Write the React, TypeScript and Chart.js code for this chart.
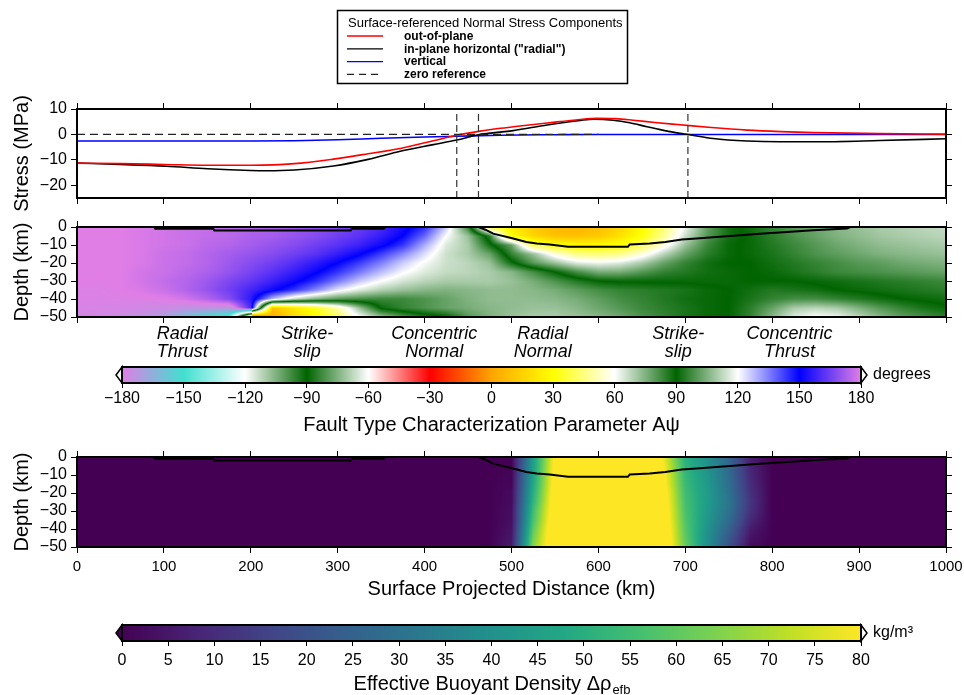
import React, { useEffect, useRef } from "react";
import { Chart, registerables } from "chart.js";

Chart.register(...registerables);

const FONT = "'Liberation Sans', Helvetica, Arial, sans-serif";
Chart.defaults.font.family = FONT;
Chart.defaults.color = "#000";

// ---------------- Stress panel ----------------
const legendTitle = "Surface-referenced Normal Stress Components";
const legendLabels = ["out-of-plane", 'in-plane horizontal ("radial")', "vertical", "zero reference"];
const legendColors = ["#ff0000", "#000000", "#0000ff", "#222222"];
const legendDashed = [false, false, false, true];

const outOfPlaneKm = [0, 50, 100, 150, 200, 250, 295, 335, 372, 410, 437, 464, 487, 502, 541, 579, 598, 620, 640, 665, 694, 730, 771, 810, 848, 924, 1000];
const outOfPlaneMPa = [-11.3, -11.5, -11.8, -12.1, -12.1, -11.5, -9.7, -7.6, -5.5, -2.5, -0.3, 1.3, 2.4, 3.0, 4.5, 5.9, 6.3, 6.2, 5.6, 4.7, 3.8, 2.7, 1.7, 1.1, 0.7, 0.3, 0.1];

const radialKm = [0, 50, 103, 150, 200, 218, 250, 295, 335, 372, 410, 437, 462, 487, 502, 541, 579, 595, 617, 636, 656, 675, 694, 703, 732, 771, 809, 848, 924, 1000];
const radialMPa = [-11.3, -11.8, -12.5, -13.5, -14.2, -14.3, -14.0, -12.4, -9.8, -6.6, -4.0, -2.2, -0.1, 0.9, 1.5, 3.7, 5.5, 6.0, 5.6, 4.6, 3.0, 1.6, 0.4, 0, -1.6, -2.6, -2.9, -2.9, -2.4, -1.7];

const verticalKm = [0, 100, 200, 250, 300, 350, 400, 437, 487, 550, 600, 1000];
const verticalMPa = [-2.6, -2.6, -2.6, -2.5, -2.1, -1.5, -1.0, -0.7, -0.3, -0.1, 0, 0];

const zeroRefKm = [0, 600];
const zeroRefMPa = [0, 0];
const markerKm = [437, 462, 703];

const stressTicks = [10, 0, -10, -20];
const distanceTicks = [0, 100, 200, 300, 400, 500, 600, 700, 800, 900, 1000];
const depthTicks = [0, -10, -20, -30, -40, -50];

// ---------------- Depth sections ----------------
const gridKm = [0, 25, 50, 75, 100, 125, 150, 175, 200, 225, 250, 275, 300, 325, 350, 375, 400, 425, 450, 475, 500, 525, 550, 575, 600, 625, 650, 675, 700, 725, 750, 775, 800, 825, 850, 875, 900, 925, 950, 975, 1000];
const gridDepth = [0, -5, -10, -15, -20, -25, -30, -35, -40, -45, -50];

// Fault type parameter A-psi (degrees), rows = gridDepth, columns = gridKm
const faultTypeGrid = [
  [180, 180, 180, 179, 178, 177, 176, 175, 174, 173, 171, 169, 167, 164, 160, 153, 145, 126, 96, 38, 24, 12, 6, 5, 8, 16, 28, 44, 62, 78, 88, 92, 96, 100, 103, 106, 108, 110, 111, 112, 113],
  [180, 180, 180, 179, 178, 177, 176, 175, 173, 172, 170, 168, 165, 162, 157, 150, 138, 120, 108, 85, 30, 16, 10, 9, 12, 20, 31, 47, 66, 80, 88, 91, 95, 99, 102, 105, 107, 109, 110, 111, 112],
  [180, 180, 180, 179, 178, 177, 175, 174, 172, 170, 168, 165, 162, 158, 152, 144, 130, 116, 110, 92, 78, 40, 30, 28, 28, 32, 40, 56, 72, 83, 89, 91, 94, 97, 100, 103, 105, 107, 108, 109, 110],
  [180, 180, 180, 179, 177, 176, 174, 172, 170, 168, 165, 162, 157, 151, 143, 134, 124, 114, 110, 102, 84, 72, 56, 46, 44, 46, 56, 68, 78, 85, 89, 91, 93, 96, 99, 101, 103, 105, 106, 107, 108],
  [180, 180, 180, 179, 177, 176, 174, 171, 168, 165, 161, 156, 150, 143, 135, 126, 119, 114, 112, 108, 92, 80, 72, 64, 62, 64, 70, 78, 84, 88, 90, 90, 92, 94, 96, 98, 100, 101, 103, 104, 105],
  [180, 180, 180, 178, 177, 175, 173, 170, 166, 162, 157, 151, 144, 136, 128, 121, 116, 113, 112, 110, 106, 98, 90, 82, 76, 76, 80, 84, 86, 88, 89, 90, 91, 93, 95, 97, 98, 99, 100, 101, 102],
  [180, 180, 180, 178, 176, 174, 171, 167, 163, 158, 152, 145, 136, 127, 120, 115, 112, 110, 110, 110, 108, 104, 99, 94, 90, 89, 89, 89, 89, 89, 89, 90, 90, 90, 91, 92, 93, 94, 95, 96, 97],
  [181, 181, 180, 179, 177, 174, 170, 165, 159, 152, 144, 134, 123, 116, 111, 108, 106, 105, 106, 107, 107, 106, 104, 101, 98, 96, 95, 94, 93, 91, 90, 88, 86, 87, 88, 90, 91, 92, 93, 94, 95],
  [181, 181, 181, 181, 180, 178, 174, 168, 156, 128, 113, 105, 100, 98, 97, 97, 99, 102, 105, 107, 107, 107, 106, 104, 101, 98, 96, 94, 92, 91, 90, 87, 84, 82, 82, 84, 86, 88, 90, 91, 92],
  [182, 182, 182, 183, 184, 186, 186, 188, 160, 10, 22, 34, 50, 72, 91, 96, 99, 102, 104, 106, 107, 108, 108, 106, 103, 100, 97, 95, 93, 91, 90, 85, 78, 70, 68, 70, 75, 80, 84, 87, 89],
  [182, 183, 184, 186, 190, 200, 210, 215, 330, 2, 18, 28, 42, 60, 72, 80, 86, 90, 100, 105, 108, 110, 110, 108, 106, 103, 99, 96, 93, 91, 90, 84, 74, 64, 60, 62, 68, 74, 79, 82, 85],
];

// Effective buoyant density (kg/m^3), rows = gridDepth, columns = gridKm
const densityGrid = [
  [0, 0, 0, 0, 0, 0, 0, 0, 0, 0, 0, 0, 0, 0, 0, 0, 0, 0, 0, 0, 0, 44, 82, 90, 90, 90, 88, 78, 50, 40, 26, 6, 0, 0, 0, 0, 0, 0, 0, 0, 0],
  [0, 0, 0, 0, 0, 0, 0, 0, 0, 0, 0, 0, 0, 0, 0, 0, 0, 0, 0, 0, 0, 45, 83, 90, 90, 90, 89, 80, 52, 41, 27, 8, 0, 0, 0, 0, 0, 0, 0, 0, 0],
  [0, 0, 0, 0, 0, 0, 0, 0, 0, 0, 0, 0, 0, 0, 0, 0, 0, 0, 0, 0, 1, 46, 84, 90, 90, 90, 89, 82, 53, 42, 28, 9, 0, 0, 0, 0, 0, 0, 0, 0, 0],
  [0, 0, 0, 0, 0, 0, 0, 0, 0, 0, 0, 0, 0, 0, 0, 0, 0, 0, 0, 0, 1, 48, 85, 90, 90, 90, 90, 83, 54, 43, 29, 10, 0, 0, 0, 0, 0, 0, 0, 0, 0],
  [0, 0, 0, 0, 0, 0, 0, 0, 0, 0, 0, 0, 0, 0, 0, 0, 0, 0, 0, 0, 2, 50, 86, 90, 90, 90, 90, 85, 55, 44, 30, 11, 0, 0, 0, 0, 0, 0, 0, 0, 0],
  [0, 0, 0, 0, 0, 0, 0, 0, 0, 0, 0, 0, 0, 0, 0, 0, 0, 0, 0, 0, 2, 52, 87, 90, 90, 90, 90, 86, 56, 44, 31, 12, 0, 0, 0, 0, 0, 0, 0, 0, 0],
  [0, 0, 0, 0, 0, 0, 0, 0, 0, 0, 0, 0, 0, 0, 0, 0, 0, 0, 0, 0, 3, 55, 88, 90, 90, 90, 90, 87, 57, 43, 30, 11, 0, 0, 0, 0, 0, 0, 0, 0, 0],
  [0, 0, 0, 0, 0, 0, 0, 0, 0, 0, 0, 0, 0, 0, 0, 0, 0, 0, 0, 0, 3, 57, 89, 90, 90, 90, 90, 88, 58, 42, 28, 9, 0, 0, 0, 0, 0, 0, 0, 0, 0],
  [0, 0, 0, 0, 0, 0, 0, 0, 0, 0, 0, 0, 0, 0, 0, 0, 0, 0, 0, 0, 4, 60, 90, 90, 90, 90, 90, 89, 59, 41, 25, 6, 0, 0, 0, 0, 0, 0, 0, 0, 0],
  [0, 0, 0, 0, 0, 0, 0, 0, 0, 0, 0, 0, 0, 0, 0, 0, 0, 0, 0, 0, 5, 63, 90, 90, 90, 90, 90, 90, 60, 40, 22, 4, 0, 0, 0, 0, 0, 0, 0, 0, 0],
  [0, 0, 0, 0, 0, 0, 0, 0, 0, 0, 0, 0, 0, 0, 0, 0, 0, 0, 0, 0, 6, 66, 90, 90, 90, 90, 90, 90, 62, 40, 20, 2, 0, 0, 0, 0, 0, 0, 0, 0, 0],
];

// Black contour (km, depth)
const contourKm = [0, 89, 90, 157, 158, 315, 316, 353, 355, 462, 470, 479, 502, 517, 529, 544, 565, 634, 636, 659, 677, 696, 713, 736, 763, 786, 817, 847, 886, 890, 1000];
const contourDepth = [0, 0, -1, -1, -2, -2, -1, -1, 0, 0, -1.5, -3.7, -6.4, -8.3, -9.2, -9.7, -11, -11, -9.7, -9.2, -8.3, -7, -6.4, -5.5, -4.6, -3.7, -2.8, -1.8, -0.9, 0, 0];

const faultTypeLabels = ["Radial\nThrust", "Strike-\nslip", "Concentric\nNormal", "Radial\nNormal", "Strike-\nslip", "Concentric\nThrust"];
const faultTypeKm = [121, 265, 411, 536, 692, 820];

// ---------------- Colour scales ----------------
const faultCptValues = [-180, -150, -120, -90, -60, -30, 0, 30, 60, 90, 120, 150, 180];
const faultCptColors = ["#e07ee6", "#40e0d0", "#ffffff", "#006400", "#ffffff", "#ff0000", "#ffa500", "#ffff00", "#ffffff", "#006400", "#ffffff", "#0000ff", "#e07ee6"];
const faultCbTicks = [-180, -150, -120, -90, -60, -30, 0, 30, 60, 90, 120, 150, 180];

const densCptValues = [0, 8, 16, 24, 32, 40, 48, 56, 64, 72, 80];
const densCptColors = ["#440154", "#482475", "#414487", "#355f8d", "#2a788e", "#21918c", "#22a884", "#44bf70", "#7ad151", "#bddf26", "#fde725"];
const densCbTicks = [0, 5, 10, 15, 20, 25, 30, 35, 40, 45, 50, 55, 60, 65, 70, 75, 80];

// ---------------- helpers ----------------
const fmt = (v: number) => (v < 0 ? "\u2212" + Math.abs(v) : String(v));
const pts = (xs: number[], ys: number[]) => xs.map((x, i) => ({ x, y: ys[i] }));

const GRID = { drawOnChartArea: false, drawTicks: true, tickLength: 6, tickColor: "#000", color: "#000", lineWidth: 1 };

function hAxis(position: string, height: number, tickVals: number[], min: number, max: number, showLabels: boolean, labelSize: number, pad: number, title?: any, tickLen = 6) {
  return {
    type: "linear",
    position,
    min,
    max,
    afterBuildTicks: (s: any) => {
      s.ticks = tickVals.map((v) => ({ value: v }));
    },
    ticks: { display: showLabels, autoSkip: false, maxRotation: 0, color: "#000", padding: pad, font: { family: FONT, size: labelSize }, callback: (v: any) => fmt(Number(v)) },
    grid: { ...GRID, tickLength: tickLen },
    border: { display: false },
    title: title || { display: false },
    afterFit: (s: any) => {
      s.height = height;
      s.paddingLeft = 0;
      s.paddingRight = 0;
    },
  };
}

function vAxis(position: string, width: number, min: number, max: number, tickVals: number[], showLabels: boolean, title?: string) {
  return {
    type: "linear",
    position,
    min,
    max,
    afterBuildTicks: (s: any) => {
      s.ticks = tickVals.map((v) => ({ value: v }));
    },
    ticks: { display: showLabels, autoSkip: false, color: "#000", padding: 4, font: { family: FONT, size: 16 }, callback: (v: any) => fmt(Number(v)) },
    grid: GRID,
    border: { display: false },
    title: title
      ? { display: true, text: title, color: "#000", font: { family: FONT, size: 20 }, padding: { top: 10, bottom: 0 } }
      : { display: false },
    afterFit: (s: any) => {
      s.width = width;
      s.paddingTop = 0;
      s.paddingBottom = 0;
    },
  };
}

function hexRgb(h: string) {
  return [parseInt(h.slice(1, 3), 16), parseInt(h.slice(3, 5), 16), parseInt(h.slice(5, 7), 16)];
}

function makeCmap(vals: number[], colors: string[], wrap: boolean) {
  const rgb = colors.map(hexRgb);
  return (v0: number) => {
    let v = v0;
    if (wrap) v = ((((v + 180) % 360) + 360) % 360) - 180;
    if (v <= vals[0]) return rgb[0];
    if (v >= vals[vals.length - 1]) return rgb[rgb.length - 1];
    let k = 0;
    while (k < vals.length - 2 && v > vals[k + 1]) k++;
    const t = (v - vals[k]) / (vals[k + 1] - vals[k]);
    const a = rgb[k], b = rgb[k + 1];
    return [a[0] + (b[0] - a[0]) * t, a[1] + (b[1] - a[1]) * t, a[2] + (b[2] - a[2]) * t];
  };
}

const unwrap = (d: number) => ((((d % 360) + 540) % 360) - 180);

function lerpVal(p: number, q: number, t: number, circular: boolean) {
  const qq = circular ? p + unwrap(q - p) : q;
  return p + (qq - p) * t;
}

function sampleGrid(grid: number[][], gx: number[], gy: number[], xv: number, yv: number, circular: boolean) {
  const nx = gx.length, ny = gy.length;
  let fi = (xv - gx[0]) / (gx[1] - gx[0]);
  let fj = (yv - gy[0]) / (gy[1] - gy[0]);
  fi = Math.max(0, Math.min(nx - 1, fi));
  fj = Math.max(0, Math.min(ny - 1, fj));
  const i = Math.min(nx - 2, Math.floor(fi));
  const j = Math.min(ny - 2, Math.floor(fj));
  const tx = fi - i, ty = fj - j;
  const topV = lerpVal(grid[j][i], grid[j][i + 1], tx, circular);
  const botV = lerpVal(grid[j + 1][i], grid[j + 1][i + 1], tx, circular);
  return lerpVal(topV, botV, ty, circular);
}

function heatmapPlugin(id: string, grid: number[][], circular: boolean, cmap: (v: number) => number[]) {
  return {
    id,
    beforeDatasetsDraw(chart: any) {
      const { ctx, chartArea: a, scales } = chart;
      const xs = scales.x, ys = scales.y;
      const L = Math.round(a.left), T = Math.round(a.top);
      const W = Math.round(a.right) - L, H = Math.round(a.bottom) - T;
      const off = document.createElement("canvas");
      off.width = W;
      off.height = H;
      const octx = off.getContext("2d")!;
      const img = octx.createImageData(W, H);
      const colKm = new Array(W);
      for (let i = 0; i < W; i++) colKm[i] = xs.getValueForPixel(L + i + 0.5);
      for (let j = 0; j < H; j++) {
        const dv = ys.getValueForPixel(T + j + 0.5);
        for (let i = 0; i < W; i++) {
          const v = sampleGrid(grid, gridKm, gridDepth, colKm[i], dv, circular);
          const c = cmap(v);
          const k = (j * W + i) * 4;
          img.data[k] = c[0];
          img.data[k + 1] = c[1];
          img.data[k + 2] = c[2];
          img.data[k + 3] = 255;
        }
      }
      octx.putImageData(img, 0, 0);
      ctx.drawImage(off, L, T);
    },
  };
}

const framePlugin = {
  id: "frame",
  afterDraw(chart: any) {
    const { ctx, chartArea: a } = chart;
    ctx.save();
    ctx.strokeStyle = "#000";
    ctx.lineWidth = 2;
    ctx.strokeRect(Math.round(a.left), Math.round(a.top), Math.round(a.right) - Math.round(a.left), Math.round(a.bottom) - Math.round(a.top));
    ctx.restore();
  },
};

const legendPlugin = {
  id: "stressLegend",
  afterDraw(chart: any) {
    const { ctx } = chart;
    ctx.save();
    ctx.fillStyle = "#fff";
    ctx.fillRect(337.5, 10.5, 290, 73);
    ctx.strokeStyle = "#000";
    ctx.lineWidth = 1.5;
    ctx.strokeRect(337.5, 10.5, 290, 73);
    ctx.fillStyle = "#000";
    ctx.textAlign = "left";
    ctx.textBaseline = "middle";
    ctx.font = `13px ${FONT}`;
    ctx.fillText(legendTitle, 348, 23);
    ctx.font = `bold 12px ${FONT}`;
    legendLabels.forEach((lab, i) => {
      const y = 36 + i * 12.8;
      ctx.beginPath();
      ctx.strokeStyle = legendColors[i];
      ctx.lineWidth = 1.3;
      ctx.setLineDash(legendDashed[i] ? [7, 5] : []);
      ctx.moveTo(347, y);
      ctx.lineTo(383, y);
      ctx.stroke();
      ctx.setLineDash([]);
      ctx.fillText(lab, 404, y + 0.5);
    });
    ctx.restore();
  },
};

const faultLabelPlugin = {
  id: "faultLabels",
  afterDraw(chart: any) {
    const { ctx, chartArea: a, scales } = chart;
    ctx.save();
    ctx.fillStyle = "#000";
    ctx.font = `italic 18px ${FONT}`;
    ctx.textAlign = "center";
    ctx.textBaseline = "middle";
    faultTypeLabels.forEach((lab, i) => {
      const px = scales.x.getPixelForValue(faultTypeKm[i]);
      lab.split("\n").forEach((line, k) => ctx.fillText(line, px, a.bottom + 17 + k * 18));
    });
    ctx.restore();
  },
};

function colorbarPlugin(id: string, vals: number[], colors: string[], unit: string, leftFill: string, rightFill: string) {
  return {
    id,
    beforeDatasetsDraw(chart: any) {
      const { ctx, chartArea: a, scales } = chart;
      const xs = scales.x;
      const x0 = xs.getPixelForValue(vals[0]);
      const x1 = xs.getPixelForValue(vals[vals.length - 1]);
      const g = ctx.createLinearGradient(x0, 0, x1, 0);
      vals.forEach((v, k) => g.addColorStop((xs.getPixelForValue(v) - x0) / (x1 - x0), colors[k]));
      ctx.save();
      ctx.fillStyle = g;
      ctx.fillRect(a.left, a.top, a.right - a.left, a.bottom - a.top);
      const my = (a.top + a.bottom) / 2;
      ctx.lineWidth = 1.5;
      ctx.strokeStyle = "#000";
      ctx.beginPath();
      ctx.moveTo(a.left, a.top);
      ctx.lineTo(a.left - 6, my);
      ctx.lineTo(a.left, a.bottom);
      ctx.closePath();
      ctx.fillStyle = leftFill;
      ctx.fill();
      ctx.stroke();
      ctx.beginPath();
      ctx.moveTo(a.right, a.top);
      ctx.lineTo(a.right + 6, my);
      ctx.lineTo(a.right, a.bottom);
      ctx.closePath();
      ctx.fillStyle = rightFill;
      ctx.fill();
      ctx.stroke();
      ctx.lineWidth = 2;
      ctx.strokeRect(a.left, a.top, a.right - a.left, a.bottom - a.top);
      ctx.fillStyle = "#000";
      ctx.font = `16px ${FONT}`;
      ctx.textAlign = "left";
      ctx.textBaseline = "middle";
      ctx.fillText(unit, a.right + 12, my);
      ctx.restore();
    },
  };
}

const densTitlePlugin = {
  id: "densTitle",
  afterDraw(chart: any) {
    const { ctx, chartArea: a } = chart;
    const main = "Effective Buoyant Density \u0394\u03c1";
    const sub = "efb";
    ctx.save();
    ctx.fillStyle = "#000";
    ctx.textBaseline = "middle";
    ctx.textAlign = "left";
    ctx.font = `20px ${FONT}`;
    const w1 = ctx.measureText(main).width;
    ctx.font = `13px ${FONT}`;
    const w2 = ctx.measureText(sub).width;
    const cx = (a.left + a.right) / 2;
    const x0 = cx - (w1 + w2) / 2;
    ctx.font = `20px ${FONT}`;
    ctx.fillText(main, x0, 72);
    ctx.font = `13px ${FONT}`;
    ctx.fillText(sub, x0 + w1 + 1, 78);
    ctx.restore();
  },
};

const baseOptions = {
  responsive: false,
  maintainAspectRatio: false,
  animation: false,
  events: [],
  plugins: { legend: { display: false }, tooltip: { enabled: false }, title: { display: false } },
};

function lineDs(data: any[], color: string, width: number, dash: number[] = [], extra: any = {}) {
  return {
    data,
    showLine: true,
    borderColor: color,
    backgroundColor: color,
    borderWidth: width,
    borderDash: dash,
    pointRadius: 0,
    fill: false,
    xAxisID: "x",
    yAxisID: "y",
    ...extra,
  };
}

function stressConfig(): any {
  const smooth = { cubicInterpolationMode: "monotone" };
  return {
    type: "scatter",
    data: {
      datasets: [
        lineDs(pts(zeroRefKm, zeroRefMPa), "#222", 1.2, [8, 5]),
        ...markerKm.map((k) => lineDs(pts([k, k], [-25, 10]), "#333", 1.2, [7, 4])),
        lineDs(pts(outOfPlaneKm, outOfPlaneMPa), legendColors[0], 1.6, [], smooth),
        lineDs(pts(radialKm, radialMPa), legendColors[1], 1.6, [], smooth),
        lineDs(pts(verticalKm, verticalMPa), legendColors[2], 1.6, [], smooth),
      ],
    },
    options: {
      ...baseOptions,
      layout: { padding: { top: 103, left: 0, right: 0, bottom: 0 } },
      scales: {
        x: hAxis("bottom", 14, distanceTicks, 0, 1000, false, 15, 4),
        x2: hAxis("top", 6, distanceTicks, 0, 1000, false, 15, 4),
        y: vAxis("left", 77, -25, 10, stressTicks, true, "Stress (MPa)"),
        y2: vAxis("right", 18, -25, 10, stressTicks, false),
      },
    },
    plugins: [framePlugin, legendPlugin],
  };
}

const faultCmap = makeCmap(faultCptValues, faultCptColors, true);
const densCmap = makeCmap(densCptValues, densCptColors, false);

function faultConfig(): any {
  return {
    type: "scatter",
    data: { datasets: [lineDs(pts(contourKm, contourDepth), "#000", 2)] },
    options: {
      ...baseOptions,
      layout: { padding: { top: 9, left: 0, right: 0, bottom: 0 } },
      scales: {
        x: hAxis("bottom", 45, distanceTicks, 0, 1000, false, 15, 4),
        x2: hAxis("top", 6, distanceTicks, 0, 1000, false, 15, 4),
        y: vAxis("left", 77, -50, 0, depthTicks, true, "Depth (km)"),
        y2: vAxis("right", 18, -50, 0, depthTicks, false),
      },
    },
    plugins: [heatmapPlugin("faultHeat", faultTypeGrid, true, faultCmap), framePlugin, faultLabelPlugin],
  };
}

function faultBarConfig(): any {
  return {
    type: "scatter",
    data: { datasets: [] },
    options: {
      ...baseOptions,
      layout: { padding: { top: 5, left: 122, right: 103, bottom: 0 } },
      scales: {
        x: hAxis("bottom", 57, faultCbTicks, -180, 180, true, 16, 1, {
          display: true,
          text: "Fault Type Characterization Parameter A\u03c8",
          color: "#000",
          font: { family: FONT, size: 20 },
          padding: { top: 0, bottom: 3 },
        }, 5),
        y: { display: false, min: 0, max: 1 },
      },
    },
    plugins: [colorbarPlugin("faultBar", faultCptValues, faultCptColors, "degrees", "#fff", "#fff")],
  };
}

function densConfig(): any {
  return {
    type: "scatter",
    data: { datasets: [lineDs(pts(contourKm, contourDepth), "#000", 2)] },
    options: {
      ...baseOptions,
      layout: { padding: { top: 11, left: 0, right: 0, bottom: 0 } },
      scales: {
        x: hAxis("bottom", 65, distanceTicks, 0, 1000, true, 15, 5, {
          display: true,
          text: "Surface Projected Distance (km)",
          color: "#000",
          font: { family: FONT, size: 20 },
          padding: { top: 0, bottom: 11 },
        }),
        x2: hAxis("top", 6, distanceTicks, 0, 1000, false, 15, 4),
        y: vAxis("left", 77, -50, 0, depthTicks, true, "Depth (km)"),
        y2: vAxis("right", 18, -50, 0, depthTicks, false),
      },
    },
    plugins: [heatmapPlugin("densHeat", densityGrid, false, densCmap), framePlugin],
  };
}

function densBarConfig(): any {
  return {
    type: "scatter",
    data: { datasets: [] },
    options: {
      ...baseOptions,
      layout: { padding: { top: 13, left: 122, right: 103, bottom: 0 } },
      scales: {
        x: hAxis("bottom", 54, densCbTicks, 0, 80, true, 16, 5, undefined, 5),
        y: { display: false, min: 0, max: 1 },
      },
    },
    plugins: [colorbarPlugin("densBar", densCptValues, densCptColors, "kg/m\u00b3", "#440154", "#fff"), densTitlePlugin],
  };
}

function ChartBox({ top, height, make }: { top: number; height: number; make: () => any }) {
  const ref = useRef<HTMLCanvasElement>(null);
  useEffect(() => {
    const chart = new Chart(ref.current as HTMLCanvasElement, make());
    return () => chart.destroy();
  }, []);
  return (
    <canvas
      ref={ref}
      width={964}
      height={height}
      style={{ position: "absolute", left: 0, top, width: 964, height, display: "block" }}
    />
  );
}

export default function App() {
  return (
    <div style={{ position: "absolute", left: 0, top: 0, width: 964, height: 695, background: "#fff", overflow: "hidden" }}>
      <ChartBox top={0} height={212} make={stressConfig} />
      <ChartBox top={212} height={150} make={faultConfig} />
      <ChartBox top={362} height={78} make={faultBarConfig} />
      <ChartBox top={440} height={172} make={densConfig} />
      <ChartBox top={612} height={83} make={densBarConfig} />
    </div>
  );
}
